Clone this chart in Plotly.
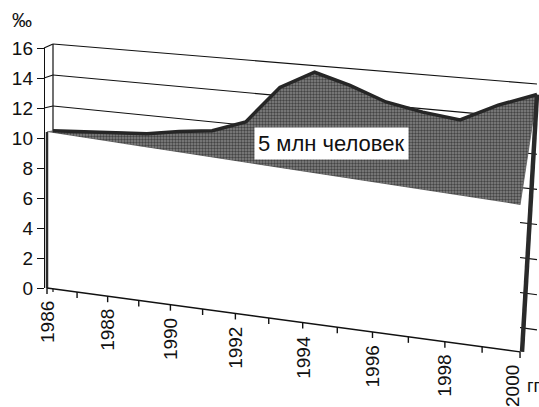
import plotly.graph_objects as go

# ---- data -------------------------------------------------------------
years = list(range(1986, 2001))
death_rate = [10.4, 10.55, 10.75, 10.85, 11.2, 11.45, 12.2, 14.5, 15.6,
              15.0, 14.2, 13.8, 13.55, 14.6, 15.4]          # ‰
trend_years = [1986, 2000]
trend_rate = [10.4, 8.65]                                   # ‰, straight trend
y_ticks = list(range(0, 17, 2))
year_labels = [str(y) for y in range(1986, 2001, 2)]
area_label = "5 млн человек"

# ---- oblique (perspective) view of the 3-D area chart -----------------
W, H = 539, 407
PERSP = -0.0084          # foreshortening per year (right end is nearer)
Y0 = 288                 # screen row of the zero level at the front-left corner
K = 15                   # screen px per 1 ‰ at the front-left corner


def _axes(px, py):
    # main axes: x in screen units, y in ‰ measured at the front-left corner
    return px, (Y0 - py) / K


def front(year, value):
    t = year - years[0]
    w = 1 + PERSP * t
    return _axes((47 + 29.42 * t) / w, (288 + 1.61 * t - 15.0 * value) / w)


def back(year, value):
    t = year - years[0]
    w = 1 + PERSP * t
    return _axes((53 + 30.06 * t) / w, (292 + 2.15 * t - 15.5 * value) / w)


def path(points):
    xs, ys = [], []
    for p in points:
        if p is None:
            xs.append(None)
            ys.append(None)
        else:
            xs.append(p[0])
            ys.append(p[1])
    return xs, ys


AXIS_X = 44              # screen column of the value axis
INK = "#111111"
FONT = "Liberation Sans, Arial, sans-serif"

fig = go.Figure()

# back wall gridlines, back-left corner and the side-wall connectors
pts = []
for v in y_ticks[1:]:
    pts += [back(years[0], v), back(years[-1], v), None]
pts += [back(years[0], 0), back(years[0], y_ticks[-1]), None]
for v in y_ticks:
    if v > death_rate[0]:
        pts += [_axes(AXIS_X, Y0 - K * v), back(years[0], v), None]
gx, gy = path(pts)
fig.add_trace(go.Scatter(x=gx, y=gy, mode="lines",
                         line=dict(color=INK, width=1.2), hoverinfo="skip"))

# shaded gap between the death rate (back) and the trend (front face)
top = [back(y, v) for y, v in zip(years, death_rate)]
bottom = [front(trend_years[1], trend_rate[1]), front(trend_years[0], trend_rate[0])]
dx, dy = path(top + bottom + [top[0]])
fig.add_trace(go.Scatter(
    x=dx, y=dy, mode="lines", fill="toself",
    line=dict(color="#5e5e5e", width=0.8),
    fillcolor="#7c7c7c",
    fillpattern=dict(shape=".", bgcolor="#868686", fgcolor="#444444",
                     size=3, solidity=0.5, fillmode="replace"),
    hoverinfo="skip"))

# dark top surface of the death-rate ribbon
tx, ty = path(top)
fig.add_trace(go.Scatter(x=tx, y=ty, mode="lines",
                         line=dict(color="#262626", width=3.5), hoverinfo="skip"))

# white front face
face = [front(years[0], 0), front(trend_years[0], trend_rate[0]),
        front(trend_years[1], trend_rate[1]), front(years[-1], 0)]
fx, fy = path(face + [face[0]])
fig.add_trace(go.Scatter(x=fx, y=fy, mode="lines", fill="toself",
                         fillcolor="#ffffff", line=dict(color="rgba(0,0,0,0)", width=0),
                         hoverinfo="skip"))

# left edge of the front face and the right end of the ribbon
ex, ey = path([front(years[0], 0), front(trend_years[0], trend_rate[0])])
fig.add_trace(go.Scatter(x=ex, y=ey, mode="lines",
                         line=dict(color="#2a2a2a", width=2.5), hoverinfo="skip"))
rx, ry = path([back(years[-1], death_rate[-1]), front(years[-1], 0)])
fig.add_trace(go.Scatter(x=[rx[0], rx[1] + 2], y=ry, mode="lines",
                         line=dict(color="#2a2a2a", width=4.5), hoverinfo="skip"))

# category axis along the front edge of the floor, ticks every year
pts = [front(years[0], 0), front(years[-1], 0), None]
for y in years:
    x0, y0 = front(y, 0)
    pts += [(x0, y0), (x0, y0 - 6 / K), None]
bx, by = path(pts)
fig.add_trace(go.Scatter(x=bx, y=by, mode="lines",
                         line=dict(color=INK, width=1.4), hoverinfo="skip"))

# empty trace that carries the value axis
fig.add_trace(go.Scatter(x=[None], y=[None], xaxis="x", yaxis="y2",
                         hoverinfo="skip"))

annotations = []
for lab in year_labels:
    x0, y0 = front(int(lab), 0)
    annotations.append(dict(
        x=x0, y=y0, xref="x", yref="y", text=lab, showarrow=False,
        textangle=-90, xanchor="center", yanchor="top", yshift=-11,
        xshift=-7 if lab == year_labels[-1] else 0,
        font=dict(family=FONT, size=19, color=INK)))

annotations.append(dict(
    x=331, y=(Y0 - 143) / K, xref="x", yref="y", text=area_label,
    showarrow=False, bgcolor="#ffffff", borderpad=3,
    font=dict(family=FONT, size=22, color=INK)))
annotations.append(dict(
    x=22 / W, y=1 - 20 / H, xref="paper", yref="paper", text="‰",
    showarrow=False, xanchor="center", yanchor="middle",
    font=dict(family=FONT, size=20, color=INK)))
annotations.append(dict(
    x=525 / W, y=1 - 386 / H, xref="paper", yref="paper", text="гг",
    showarrow=False, xanchor="left", yanchor="middle",
    font=dict(family=FONT, size=18, color=INK)))

fig.update_layout(
    template="none",
    width=W, height=H,
    margin=dict(l=0, r=0, t=0, b=0, pad=0, autoexpand=False),
    paper_bgcolor="#ffffff",
    plot_bgcolor="rgba(0,0,0,0)",
    showlegend=False,
    xaxis=dict(range=[0, W], visible=False, fixedrange=True, automargin=False),
    yaxis=dict(range=[(Y0 - H) / K, Y0 / K], visible=False, fixedrange=True,
               automargin=False),
    yaxis2=dict(
        domain=[(H - Y0) / H, (H - (Y0 - K * y_ticks[-1])) / H],
        range=[y_ticks[0], y_ticks[-1]], tickvals=y_ticks,
        anchor="free", position=AXIS_X / W, side="left", automargin=False,
        showline=True, linecolor=INK, linewidth=1.4,
        ticks="outside", ticklen=7, tickcolor=INK, tickwidth=1.4,
        showgrid=False, zeroline=False,
        tickfont=dict(family=FONT, size=19, color=INK)),
    annotations=annotations,
)

fig.write_html("out.html")
